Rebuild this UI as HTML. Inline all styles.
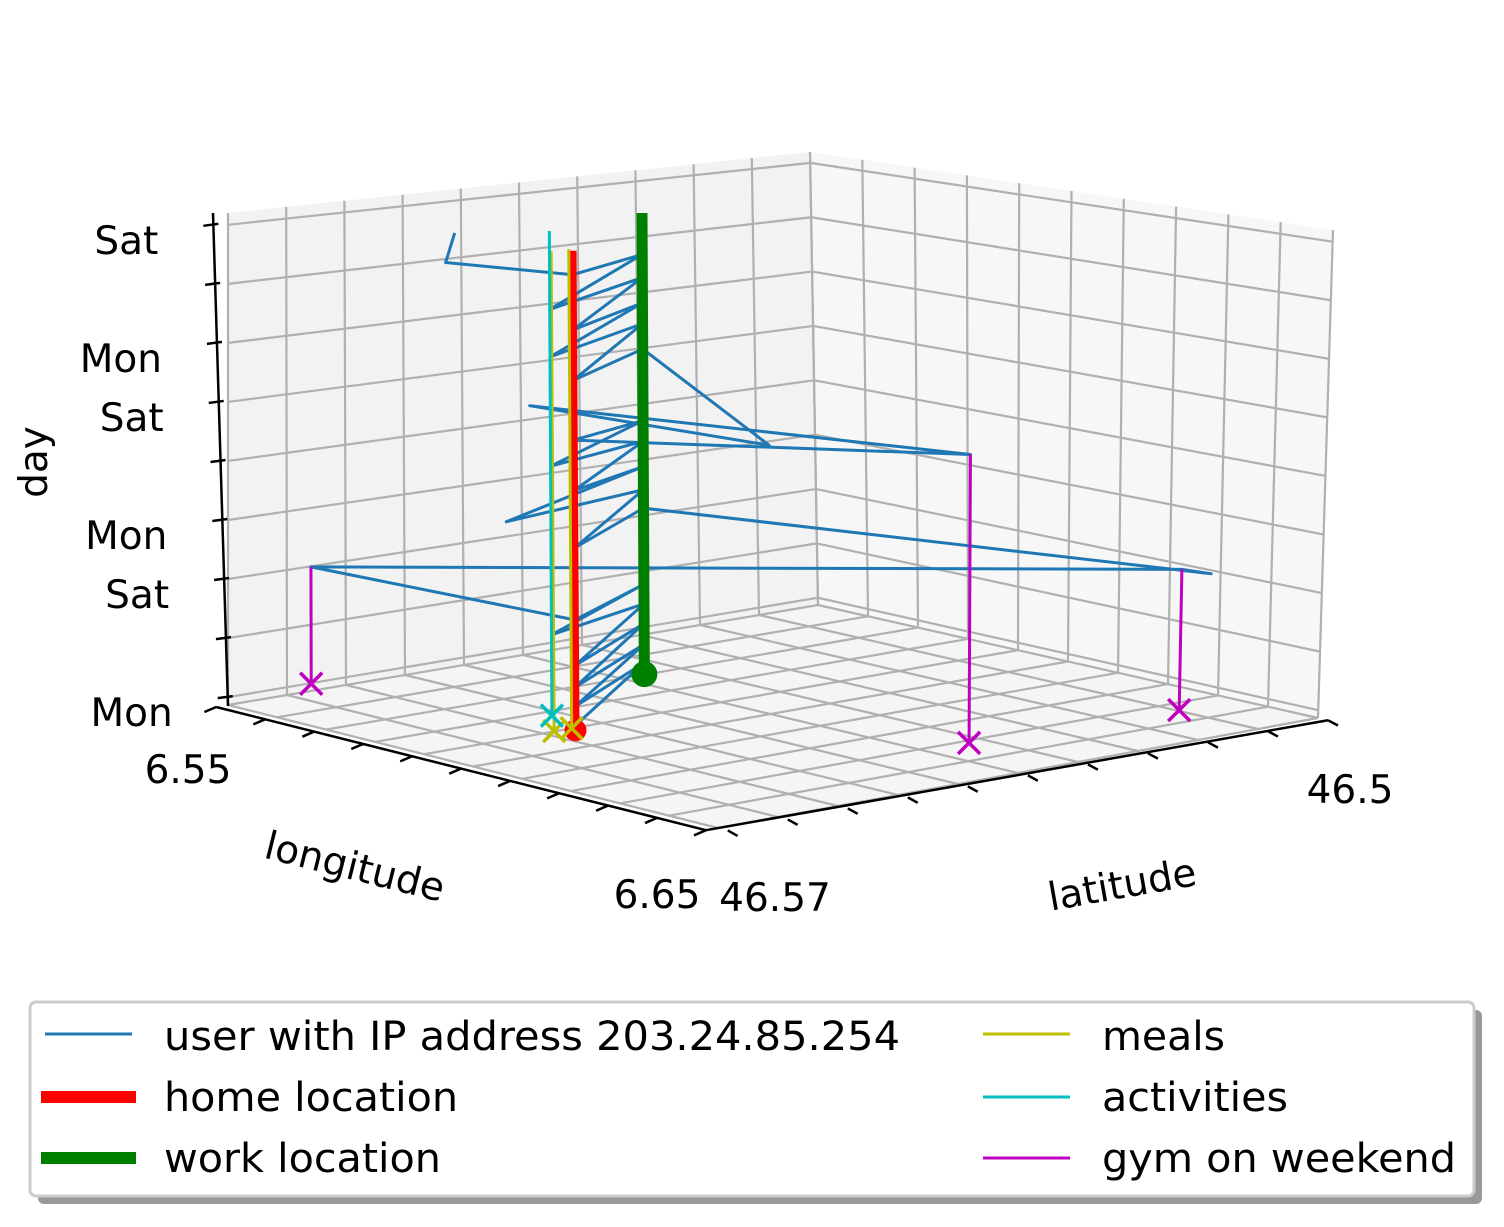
<!DOCTYPE html>
<html><head><meta charset="utf-8"><style>
html,body{margin:0;padding:0;background:#fff;}
svg{display:block;font-family:"DejaVu Sans","Liberation Sans",sans-serif;}
</style></head><body>
<svg id="chart" width="1504" height="1227" viewBox="0 0 1504 1227" xmlns="http://www.w3.org/2000/svg">
<rect width="1504" height="1227" fill="#fff"/>
<g id="panes"></g>
<g id="grid"></g>
<g id="axes"></g>
<g id="series"></g>
<text x="355" y="880" font-size="39" text-anchor="middle" transform="rotate(14 355 866)">longitude</text>
<text x="1122" y="898" font-size="39" text-anchor="middle" transform="rotate(-10 1122 884)">latitude</text>
<text x="33" y="476" font-size="39" text-anchor="middle" transform="rotate(-90 33 462)">day</text>
<g>
<rect x="38" y="1010" width="1444" height="194" rx="6" fill="#999"/>
<rect x="30" y="1002" width="1444" height="194" rx="6" fill="#fff" stroke="#ccc" stroke-width="3"/>
<g><line x1="45" y1="1034" x2="132" y2="1034" stroke="#1f77b4" stroke-width="3"/><text x="164" y="1050" font-size="40" textLength="736" lengthAdjust="spacingAndGlyphs">user with IP address 203.24.85.254</text></g>
<g><line x1="41" y1="1097" x2="136" y2="1097" stroke="#ff0000" stroke-width="12"/><text x="164" y="1111" font-size="40" textLength="294" lengthAdjust="spacingAndGlyphs">home location</text></g>
<g><line x1="41" y1="1158" x2="136" y2="1158" stroke="#008000" stroke-width="12"/><text x="164" y="1172" font-size="40" textLength="277" lengthAdjust="spacingAndGlyphs">work location</text></g>
<g><line x1="983" y1="1034" x2="1070" y2="1034" stroke="#bfbf00" stroke-width="3"/><text x="1102" y="1050" font-size="40" textLength="123" lengthAdjust="spacingAndGlyphs">meals</text></g>
<g><line x1="983" y1="1097" x2="1070" y2="1097" stroke="#00bfbf" stroke-width="3"/><text x="1102" y="1111" font-size="40" textLength="186" lengthAdjust="spacingAndGlyphs">activities</text></g>
<g><line x1="983" y1="1158" x2="1070" y2="1158" stroke="#bf00bf" stroke-width="3"/><text x="1102" y="1172" font-size="40" textLength="354" lengthAdjust="spacingAndGlyphs">gym on weekend</text></g>
</g>
</svg>
<script>
// ---- data ----
const lonRange = [6.55, 6.65];
const latRange = [46.50, 46.57];
const dayTickLabels = ['Mon','','Sat','Mon','','Sat','Mon','','Sat'];
const lonTickLabels = ['6.55','6.65'];
const latTickLabels = ['46.57','46.5'];
const blueLat = [46.5551,46.5344,46.5551,46.5344,46.5551,46.5344,46.5551,46.5344,46.5526,46.5344,46.5551,46.5603,46.5090,46.5070,46.5344,46.5551,46.5344,46.5630,46.5344,46.5551,46.5344,46.5526,46.5344,46.5551,46.5321,46.5630,46.5380,46.5344,46.5551,46.5344,46.5526,46.5344,46.5551,46.5344,46.5526,46.5344,46.5551,46.5585,46.5574];
const blueLon = [6.5951,6.5735,6.5951,6.5735,6.5951,6.5735,6.5951,6.5735,6.5860,6.5735,6.5951,6.5503,6.6376,6.6400,6.5735,6.5951,6.5735,6.5950,6.5735,6.5951,6.5735,6.5860,6.5735,6.5951,6.6351,6.6000,6.6050,6.5735,6.5951,6.5735,6.5860,6.5735,6.5951,6.5735,6.5860,6.5735,6.5951,6.5750,6.5750];
const blueDay = [0.2,0.5,1.0,1.3,1.8,2.2,2.7,3.05,3.4,3.9,4.6,5.0,6.0,5.8,7.2,7.6,8.0,9.1,9.0,10.0,10.1,10.5,11.0,12.1,12.0,14.1,11.45,14.1,14.6,15.2,15.1,16.1,16.7,17.2,17.1,18.2,19.0,18.9,20.1];
const homeLoc = [46.5551, 6.5951];
const workLoc = [46.5344, 6.5735];
const mealLat = [46.5568, 46.5548];
const mealLon = [6.5937, 6.5938];
const actLat = [46.5526];
const actLon = [6.5860];
const gymLat = [46.5603, 46.5321, 46.5090];
const gymLon = [6.5503, 6.6351, 6.6376];
const gymDay = [5.0, 12.0, 6.0];
const dayMax = 20;

// ---- projection ----
function U(lon){return (lonRange[1]-lon)/(lonRange[1]-lonRange[0]);}
function V(lat){return (latRange[1]-lat)/(latRange[1]-latRange[0]);}
function Wd(day){return 0.016+0.12*(day/2.5);}
function proj(u,v,w){
  const bx=718-490*u+600*v-10*u*v, by=828-123*u-110*v+10*u*v;
  const h=527-35*u-39*v;
  const lean=-10+10*u+25*v-33*u*v;
  return [bx+lean*w, by-h*w];
}
function P(lat,lon,day){return proj(U(lon),V(lat),Wd(day));}

const NS='http://www.w3.org/2000/svg';
function mk(tag,attrs,parent){const e=document.createElementNS(NS,tag);for(const k in attrs)e.setAttribute(k,attrs[k]);parent.appendChild(e);return e;}
function pts(a){return a.map(p=>p[0].toFixed(1)+','+p[1].toFixed(1)).join(' ');}

const panes=document.getElementById('panes'), grid=document.getElementById('grid'), axes=document.getElementById('axes'), series=document.getElementById('series');

let e;
e=mk('polygon',{points:pts([proj(0,0,0),proj(1,0,0),proj(1,1,0),proj(0,1,0)]),fill:'#f5f5f5'},panes);


e=mk('polygon',{points:pts([proj(1,0,0),proj(1,1,0),proj(1,1,1),proj(1,0,1)]),fill:'#f2f2f2'},panes);


e=mk('polygon',{points:pts([proj(1,1,0),proj(0,1,0),proj(0,1,1),proj(1,1,1)]),fill:'#f7f7f7'},panes);



const gs={stroke:'#b0b0b0','stroke-width':2.2,fill:'none'};
function gl(a,b){const l=mk('line',Object.assign({x1:a[0],y1:a[1],x2:b[0],y2:b[1]},gs),grid);

}
for(let k=0;k<=10;k++){
  const t=k/10;
  gl(proj(t,0,0),proj(t,1,0)); gl(proj(0,t,0),proj(1,t,0));
  gl(proj(1,t,0),proj(1,t,1)); gl(proj(t,1,0),proj(t,1,1));
}
for(let i=0;i<dayTickLabels.length;i++){
  const w=Wd(i*2.5);
  gl(proj(1,0,w),proj(1,1,w)); gl(proj(1,1,w),proj(0,1,w));
}

const ax={stroke:'#000','stroke-width':2.5};
e=mk('line',Object.assign({x1:213,y1:213,x2:228,y2:706},ax),axes);


for(let i=0;i<dayTickLabels.length;i++){
  const w=Wd(i*2.5);
  const y=705-492*w;
  const xx=213+15*(y-213)/493;
  e=mk('line',Object.assign({x1:xx-10,y1:y+1,x2:xx+5,y2:y-1},ax),axes);
  
  
  if(dayTickLabels[i]){
    e=mk('text',{x:xx-55,y:y+29,'font-size':39,'text-anchor':'end'},axes);
    e.textContent=dayTickLabels[i];
    
    
  }
}
const lonA=proj(1,-0.02,0), lonB=proj(0,-0.02,0), latB=proj(-0.02,1,0);
e=mk('line',Object.assign({x1:lonA[0],y1:lonA[1],x2:lonB[0],y2:lonB[1]},ax),axes);


e=mk('line',Object.assign({x1:lonB[0],y1:lonB[1],x2:latB[0],y2:latB[1]},ax),axes);


for(let k=0;k<=10;k++){
  const t=k/10;
  const a=proj(t,-0.02,0), b=proj(t,-0.04,0);
  e=mk('line',Object.assign({x1:a[0],y1:a[1],x2:b[0],y2:b[1]+3},ax),axes);
  
  
  const c=proj(-0.02,t,0), d=proj(-0.04,t,0);
  e=mk('line',Object.assign({x1:c[0],y1:c[1],x2:d[0],y2:d[1]+3},ax),axes);
  
  
}
const lonLabPos=[[188,783],[657,908]], latLabPos=[[775,911],[1350,803]];
lonTickLabels.forEach((s,i)=>{e=mk('text',{x:lonLabPos[i][0],y:lonLabPos[i][1],'font-size':39,'text-anchor':'middle'},axes);e.textContent=s;

});
latTickLabels.forEach((s,i)=>{e=mk('text',{x:latLabPos[i][0],y:latLabPos[i][1],'font-size':39,'text-anchor':'middle'},axes);e.textContent=s;

});

function vline(lat,lon,d0,d1,color,width,name){
  const a=P(lat,lon,d0), b=P(lat,lon,d1);
  const l=mk('line',{x1:a[0],y1:a[1],x2:b[0],y2:b[1],stroke:color,'stroke-width':width},series);
  
  
}
function xmark(lat,lon,color,name){
  const p=P(lat,lon,0), s=11;
  const g=mk('path',{d:`M${p[0]-s},${p[1]-s}L${p[0]+s},${p[1]+s}M${p[0]-s},${p[1]+s}L${p[0]+s},${p[1]-s}`,stroke:color,'stroke-width':3.5,fill:'none'},series);
  
  
}
const bp=blueLat.map((la,i)=>P(la,blueLon[i],blueDay[i]));
e=mk('polyline',{points:pts(bp),fill:'none',stroke:'#1f77b4','stroke-width':3,'stroke-linejoin':'round'},series);


vline(homeLoc[0],homeLoc[1],0,dayMax,'#ff0000',8,'home-location-line');
let hp=P(homeLoc[0],homeLoc[1],0);
e=mk('circle',{cx:hp[0],cy:hp[1],r:11,fill:'#ff0000'},series);


vline(workLoc[0],workLoc[1],0,dayMax,'#008000',11,'work-location-line');
let wp=P(workLoc[0],workLoc[1],0);
e=mk('circle',{cx:wp[0],cy:wp[1],r:13,fill:'#008000'},series);


mealLat.forEach((la,i)=>{vline(la,mealLon[i],0,dayMax,'#bfbf00',3,'meals-line');xmark(la,mealLon[i],'#bfbf00','meals-marker');});
actLat.forEach((la,i)=>{vline(la,actLon[i],0,dayMax+0.4,'#00bfbf',3,'activities-line');xmark(la,actLon[i],'#00bfbf','activities-marker');});
gymLat.forEach((la,i)=>{vline(la,gymLon[i],0,gymDay[i],'#bf00bf',3,'gym-line');xmark(la,gymLon[i],'#bf00bf','gym-marker');});
</script>
</body></html>
